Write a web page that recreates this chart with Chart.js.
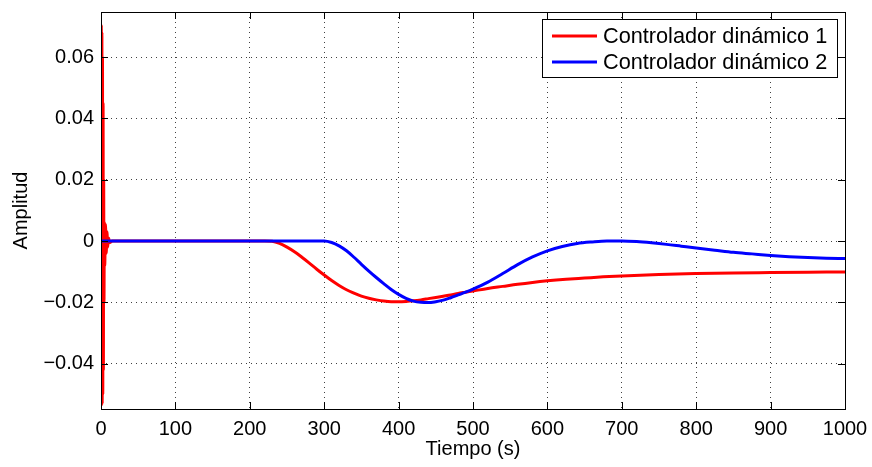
<!DOCTYPE html>
<html>
<head>
<meta charset="utf-8">
<script src="https://cdn.jsdelivr.net/npm/chart.js@4/dist/chart.umd.min.js"></script>
<style>
  html, body { margin: 0; padding: 0; background: #fff; }
  #wrap { width: 872px; height: 467px; }
</style>
</head>
<body>
<div id="wrap"><canvas id="respuesta"></canvas></div>
<script>
// Respuesta de los dos controladores dinámicos
const tRojo = [0, 0.4, 0.8, 1.2, 1.6, 2.0, 2.4, 2.8, 3.2, 3.6, 4.0, 4.5, 5, 6, 7, 8, 9, 10, 12, 15, 20, 50, 100, 150, 200, 220,
  230, 240, 250, 260, 270, 280, 290, 300, 310, 320, 330, 340, 350, 360, 370, 380, 390, 400,
  410, 420, 430, 440, 450, 460, 470, 480, 490, 500, 520, 540, 560, 580, 600, 625, 650, 675,
  700, 750, 800, 850, 900, 950, 1000];
const yRojo = [0, 0.0704, -0.0535, 0.068, -0.053, 0.06, -0.05, 0.045, -0.042, 0.02, -0.02, 0.006, -0.008, 0.0055, -0.004, 0.003, -0.002, 0.001, -0.0005, 0, 0, 0, 0, 0, 0, 0,
  -0.0001, -0.0008, -0.0020, -0.0035, -0.0053, -0.0072, -0.0092, -0.0111, -0.0129, -0.0145, -0.0159, -0.0170, -0.0180, -0.0187, -0.0192, -0.0196, -0.0198, -0.0198,
  -0.0197, -0.0195, -0.0192, -0.0188, -0.0184, -0.0180, -0.0176, -0.0171, -0.0167, -0.0163, -0.0155, -0.0148, -0.0141, -0.0135, -0.0130, -0.0125, -0.0121, -0.0117,
  -0.0114, -0.0109, -0.0106, -0.0104, -0.0103, -0.0102, -0.0101];

const tAzul = [0, 50, 100, 150, 200, 250, 300, 310, 320, 330, 340, 350, 360, 370, 380, 390, 400,
  410, 420, 430, 440, 450, 460, 470, 480, 490, 500, 520, 540, 560, 580, 600, 620, 640, 660, 680,
  700, 720, 740, 760, 780, 800, 825, 850, 875, 900, 925, 950, 975, 1000];
const yAzul = [0, 0, 0, 0, 0, 0, 0, -0.0005, -0.0016, -0.0032, -0.0053, -0.0076, -0.0098, -0.0119, -0.0139, -0.0158, -0.0174,
  -0.0187, -0.0196, -0.0200, -0.0201, -0.0198, -0.0193, -0.0185, -0.0176, -0.0167, -0.0157, -0.0134, -0.0106, -0.0077, -0.0052, -0.0032, -0.0018, -0.0008, -0.0003, 0,
  0, -0.0002, -0.0006, -0.0011, -0.0017, -0.0023, -0.0030, -0.0037, -0.0042, -0.0047, -0.0051, -0.0054, -0.0056, -0.0057];

const xTicks = [0, 100, 200, 300, 400, 500, 600, 700, 800, 900, 1000];
const yTicks = [-0.04, -0.02, 0, 0.02, 0.04, 0.06];
const nombres = ['Controlador dinámico 1', 'Controlador dinámico 2'];
const colores = ['#ff0000', '#0000ff'];

const FUENTE = '"Liberation Sans", Arial, Helvetica, sans-serif';
const aPuntos = (ts, ys) => ts.map((t, i) => ({ x: t, y: ys[i] }));

// marco negro con marcas hacia dentro en los cuatro lados
const marcoPlugin = {
  id: 'marco',
  afterDatasetsDraw(chart) {
    const { ctx, chartArea: a, scales: { x, y } } = chart;
    const L = 7;
    ctx.save();
    ctx.strokeStyle = '#000';
    ctx.lineWidth = 1;
    ctx.beginPath();
    xTicks.forEach(v => {
      const px = Math.round(x.getPixelForValue(v)) + 0.5;
      ctx.moveTo(px, a.bottom); ctx.lineTo(px, a.bottom - L);
      ctx.moveTo(px, a.top); ctx.lineTo(px, a.top + L);
    });
    yTicks.forEach(v => {
      const py = Math.round(y.getPixelForValue(v)) + 0.5;
      ctx.moveTo(a.left, py); ctx.lineTo(a.left + L, py);
      ctx.moveTo(a.right, py); ctx.lineTo(a.right - L, py);
    });
    ctx.stroke();
    ctx.strokeRect(Math.round(a.left) + 0.5, Math.round(a.top) + 0.5,
      Math.round(a.right - a.left), Math.round(a.bottom - a.top));
    ctx.restore();
  }
};

// leyenda en recuadro, esquina superior derecha
const leyendaPlugin = {
  id: 'leyenda',
  afterDraw(chart) {
    const { ctx } = chart;
    const x0 = 542.5, y0 = 19.5, w = 295, h = 58;
    ctx.save();
    ctx.fillStyle = '#fff';
    ctx.fillRect(x0, y0, w, h);
    ctx.strokeStyle = '#000';
    ctx.lineWidth = 1;
    ctx.strokeRect(x0, y0, w, h);
    ctx.font = '21.7px ' + FUENTE;
    ctx.textBaseline = 'middle';
    nombres.forEach((n, i) => {
      const yy = 36 + i * 26;
      ctx.strokeStyle = colores[i];
      ctx.lineWidth = 3;
      ctx.beginPath();
      ctx.moveTo(552, yy);
      ctx.lineTo(597, yy);
      ctx.stroke();
      ctx.fillStyle = '#000';
      ctx.fillText(n, 603, yy + 1);
    });
    ctx.restore();
  }
};

const fmt = v => (v === 0 ? '0' : v.toFixed(2).replace('-', '\u2212'));

new Chart(document.getElementById('respuesta'), {
  type: 'line',
  data: {
    datasets: [
      { label: nombres[0], data: aPuntos(tRojo, yRojo), borderColor: colores[0], order: 1 },
      { label: nombres[1], data: aPuntos(tAzul, yAzul), borderColor: colores[1], order: 0 }
    ]
  },
  options: {
    responsive: true,
    maintainAspectRatio: false,
    animation: false,
    parsing: false,
    layout: { padding: { top: 12, right: 27, left: 0, bottom: 0 } },
    elements: {
      point: { radius: 0 },
      line: { borderWidth: 3, cubicInterpolationMode: 'monotone', fill: false }
    },
    plugins: { legend: { display: false }, tooltip: { enabled: false } },
    scales: {
      x: {
        type: 'linear',
        min: 0, max: 1000,
        afterBuildTicks: s => { s.ticks = xTicks.map(v => ({ value: v })); },
        afterFit: s => { s.height = 58; s.paddingLeft = 0; s.paddingRight = 0; },
        grid: { color: 'rgba(0,0,0,0.75)', lineWidth: 1, drawTicks: false },
        border: { display: false, dash: [1, 4] },
        ticks: { color: '#000', font: { family: FUENTE, size: 20 }, padding: 8, maxRotation: 0, autoSkip: false, callback: v => String(v) },
        title: { display: true, text: 'Tiempo (s)', color: '#000', font: { family: FUENTE, size: 20 }, padding: { top: 0, bottom: 6 } }
      },
      y: {
        type: 'linear',
        min: -0.0548, max: 0.0747,
        afterBuildTicks: s => { s.ticks = yTicks.map(v => ({ value: v })); },
        afterFit: s => { s.width = 101; s.paddingTop = 0; s.paddingBottom = 0; },
        grid: { color: 'rgba(0,0,0,0.75)', lineWidth: 1, drawTicks: false },
        border: { display: false, dash: [1, 4] },
        ticks: { color: '#000', font: { family: FUENTE, size: 20 }, padding: 7, callback: v => fmt(v) },
        title: { display: true, text: 'Amplitud', color: '#000', font: { family: FUENTE, size: 20 }, padding: { top: 9, bottom: 0 } }
      }
    }
  },
  plugins: [marcoPlugin, leyendaPlugin]
});
</script>
</body>
</html>
